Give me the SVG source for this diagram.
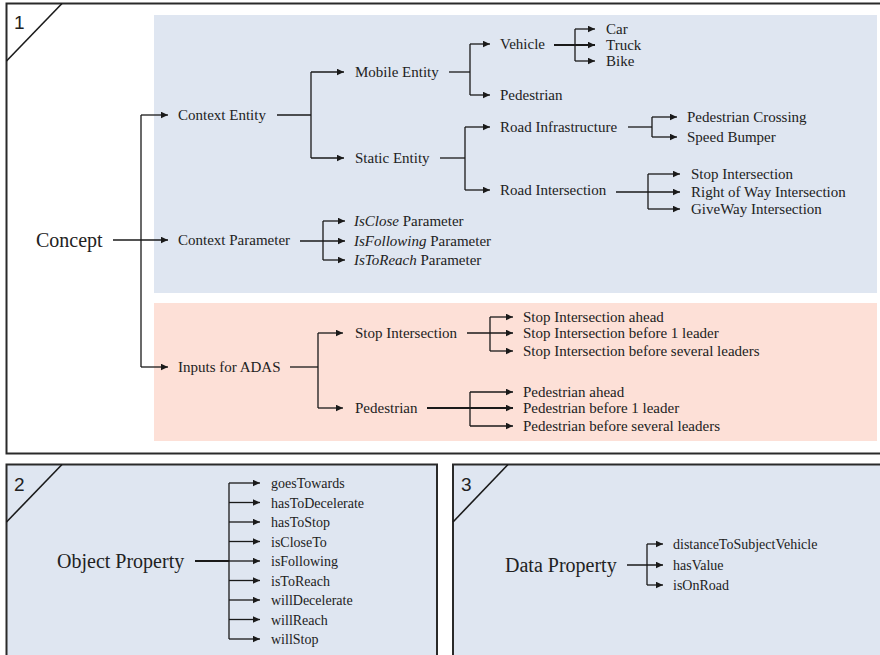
<svg xmlns="http://www.w3.org/2000/svg" width="880" height="655" viewBox="0 0 880 655">
  <style>
    .frame { fill: none; stroke: #2a2a2a; stroke-width: 2; }
    .frame-fill { fill: #dfe6f1; stroke: #2a2a2a; stroke-width: 2; }
    .corner { fill: none; stroke: #1a1a1a; stroke-width: 1.6; }
    .num { font-family: "Liberation Sans", Arial, sans-serif; font-size: 19px; fill: #222; }
    .band-blue { fill: #dfe6f1; }
    .band-pink { fill: #fde0d7; }
    text.t { font-family: "Liberation Serif", "Times New Roman", serif; font-size: 15px; fill: #222; }
    text.s { font-family: "Liberation Serif", "Times New Roman", serif; font-size: 14px; fill: #222; }
    text.big { font-family: "Liberation Serif", "Times New Roman", serif; font-size: 20px; fill: #222; }
    .c path { fill: none; stroke: #1a1a1a; stroke-width: 1.3; }
    .c path.a { marker-end: url(#tip); }
    .c path.thick { stroke-width: 2; }
  </style>
  <defs>
    <marker id="tip" markerUnits="userSpaceOnUse" markerWidth="8" markerHeight="7" refX="7" refY="3.25" orient="auto">
      <path d="M0,0 L7,3.25 L0,6.5 z" fill="#1a1a1a"/>
    </marker>
  </defs>

  <rect width="880" height="655" fill="#ffffff"/>

  <!-- panel 1: concepts -->
  <g id="panel-concept">
    <rect class="frame" x="6.5" y="3.5" width="876" height="450"/>
    <rect class="band-blue" x="154" y="15" width="723" height="278"/>
    <rect class="band-pink" x="154" y="303" width="723" height="138"/>
    <path class="corner" d="M6.5,61 L62,3.5"/>
    <text class="num" x="14" y="29">1</text>
  </g>

  <!-- panel 2: object properties -->
  <g id="panel-object">
    <rect class="frame-fill" x="6.5" y="464.5" width="430.5" height="200"/>
    <path class="corner" d="M6.5,522 L62,464.5"/>
    <text class="num" x="14" y="491">2</text>
  </g>

  <!-- panel 3: data properties -->
  <g id="panel-data">
    <rect class="frame-fill" x="453" y="464.5" width="430" height="200"/>
    <path class="corner" d="M453,522 L508,464.5"/>
    <text class="num" x="461" y="491">3</text>
  </g>

  <!-- connectors -->
  <g id="connectors" class="c">
    <!-- Concept -->
    <path d="M113,240 H168" class="a"/>
    <path d="M141,367 V115"/>
    <path d="M141,115 H168" class="a"/>
    <path d="M141,367 H168" class="a"/>
    <!-- Context Entity -->
    <path d="M277,115 H311"/>
    <path d="M311,158 V72"/>
    <path d="M311,72 H344" class="a"/>
    <path d="M311,158 H344" class="a"/>
    <!-- Mobile Entity -->
    <path d="M449,72 H470"/>
    <path d="M470,95 V44"/>
    <path d="M470,44 H490" class="a"/>
    <path d="M470,95 H490" class="a"/>
    <!-- Vehicle -->
    <path d="M554,45 H595" class="a thick"/>
    <path d="M575,61 V29"/>
    <path d="M575,29 H595" class="a"/>
    <path d="M575,61 H595" class="a"/>
    <!-- Static Entity -->
    <path d="M440,158 H465"/>
    <path d="M465,190 V127"/>
    <path d="M465,127 H490" class="a"/>
    <path d="M465,190 H490" class="a"/>
    <!-- Road Infrastructure -->
    <path d="M628,127 H652"/>
    <path d="M652,137 V117"/>
    <path d="M652,117 H677" class="a"/>
    <path d="M652,137 H677" class="a"/>
    <!-- Road Intersection -->
    <path d="M616,192 H680" class="a"/>
    <path d="M648,209 V174"/>
    <path d="M648,174 H680" class="a"/>
    <path d="M648,209 H680" class="a"/>
    <!-- Context Parameter -->
    <path d="M300,241 H345" class="a"/>
    <path d="M323,260 V221"/>
    <path d="M323,221 H345" class="a"/>
    <path d="M323,260 H345" class="a"/>
    <!-- Inputs for ADAS -->
    <path d="M290,367 H318"/>
    <path d="M318,408 V333"/>
    <path d="M318,333 H343" class="a"/>
    <path d="M318,408 H343" class="a"/>
    <!-- Stop Intersection (ADAS) -->
    <path d="M467,333 H513" class="a"/>
    <path d="M490,351 V317"/>
    <path d="M490,317 H513" class="a"/>
    <path d="M490,351 H513" class="a"/>
    <!-- Pedestrian (ADAS) -->
    <path d="M427,408 H513" class="a thick"/>
    <path d="M470,426 V392"/>
    <path d="M470,392 H513" class="a"/>
    <path d="M470,426 H513" class="a"/>
    <!-- Object Property -->
    <path d="M195,561 H229" class="thick"/>
    <path d="M229,639 V483"/>
    <path d="M229,483 H260" class="a"/>
    <path d="M229,502.5 H260" class="a"/>
    <path d="M229,522 H260" class="a"/>
    <path d="M229,541.5 H260" class="a"/>
    <path d="M229,561 H260" class="a"/>
    <path d="M229,580.5 H260" class="a"/>
    <path d="M229,600 H260" class="a"/>
    <path d="M229,619.5 H260" class="a"/>
    <path d="M229,639 H260" class="a"/>
    <!-- Data Property -->
    <path d="M627,565 H663" class="a"/>
    <path d="M647,585 V544"/>
    <path d="M647,544 H663" class="a"/>
    <path d="M647,585 H663" class="a"/>
  </g>

  <!-- concept tree nodes -->
  <g id="n-concept"><text class="big" x="36" y="247">Concept</text></g>
  <g id="n-context-entity"><text class="t" x="178" y="120">Context Entity</text></g>
  <g id="n-mobile-entity"><text class="t" x="355" y="77">Mobile Entity</text></g>
  <g id="n-static-entity"><text class="t" x="355" y="163">Static Entity</text></g>
  <g id="n-vehicle"><text class="t" x="500" y="49">Vehicle</text></g>
  <g id="n-pedestrian"><text class="t" x="500" y="100">Pedestrian</text></g>
  <g id="n-car"><text class="t" x="606" y="34">Car</text></g>
  <g id="n-truck"><text class="t" x="606" y="50">Truck</text></g>
  <g id="n-bike"><text class="t" x="606" y="66">Bike</text></g>
  <g id="n-road-infrastructure"><text class="t" x="500" y="132">Road Infrastructure</text></g>
  <g id="n-road-intersection"><text class="t" x="500" y="195">Road Intersection</text></g>
  <g id="n-pedestrian-crossing"><text class="t" x="687" y="122">Pedestrian Crossing</text></g>
  <g id="n-speed-bumper"><text class="t" x="687" y="142">Speed Bumper</text></g>
  <g id="n-stop-intersection"><text class="t" x="691" y="179">Stop Intersection</text></g>
  <g id="n-right-of-way"><text class="t" x="691" y="197">Right of Way Intersection</text></g>
  <g id="n-giveway"><text class="t" x="691" y="214">GiveWay Intersection</text></g>
  <g id="n-context-parameter"><text class="t" x="178" y="245">Context Parameter</text></g>
  <g id="n-isclose"><text class="t" x="354" y="226"><tspan font-style="italic">IsClose</tspan> Parameter</text></g>
  <g id="n-isfollowing"><text class="t" x="354" y="246"><tspan font-style="italic">IsFollowing</tspan> Parameter</text></g>
  <g id="n-istoreach"><text class="t" x="354" y="265"><tspan font-style="italic">IsToReach</tspan> Parameter</text></g>
  <g id="n-inputs-adas"><text class="t" x="178" y="372">Inputs for ADAS</text></g>
  <g id="n-adas-stop"><text class="t" x="355" y="338">Stop Intersection</text></g>
  <g id="n-adas-pedestrian"><text class="t" x="355" y="413">Pedestrian</text></g>
  <g id="n-stop-ahead"><text class="t" x="523" y="322">Stop Intersection ahead</text></g>
  <g id="n-stop-1-leader"><text class="t" x="523" y="338">Stop Intersection before 1 leader</text></g>
  <g id="n-stop-several"><text class="t" x="523" y="356">Stop Intersection before several leaders</text></g>
  <g id="n-ped-ahead"><text class="t" x="523" y="397">Pedestrian ahead</text></g>
  <g id="n-ped-1-leader"><text class="t" x="523" y="413">Pedestrian before 1 leader</text></g>
  <g id="n-ped-several"><text class="t" x="523" y="431">Pedestrian before several leaders</text></g>

  <!-- object property nodes -->
  <g id="n-object-property"><text class="big" x="57" y="567.5" font-size="19.5">Object Property</text></g>
  <g id="n-goestowards"><text class="s" x="271" y="488">goesTowards</text></g>
  <g id="n-hastodecelerate"><text class="s" x="271" y="507.5">hasToDecelerate</text></g>
  <g id="n-hastostop"><text class="s" x="271" y="527">hasToStop</text></g>
  <g id="n-isclosetoo"><text class="s" x="271" y="546.5">isCloseTo</text></g>
  <g id="n-isfollowing-prop"><text class="s" x="271" y="566">isFollowing</text></g>
  <g id="n-istoreach-prop"><text class="s" x="271" y="585.5">isToReach</text></g>
  <g id="n-willdecelerate"><text class="s" x="271" y="605">willDecelerate</text></g>
  <g id="n-willreach"><text class="s" x="271" y="624.5">willReach</text></g>
  <g id="n-willstop"><text class="s" x="271" y="644">willStop</text></g>

  <!-- data property nodes -->
  <g id="n-data-property"><text class="big" x="505" y="571.5" font-size="19.5">Data Property</text></g>
  <g id="n-distance"><text class="s" x="673" y="549">distanceToSubjectVehicle</text></g>
  <g id="n-hasvalue"><text class="s" x="673" y="570">hasValue</text></g>
  <g id="n-isonroad"><text class="s" x="673" y="590">isOnRoad</text></g>
</svg>
